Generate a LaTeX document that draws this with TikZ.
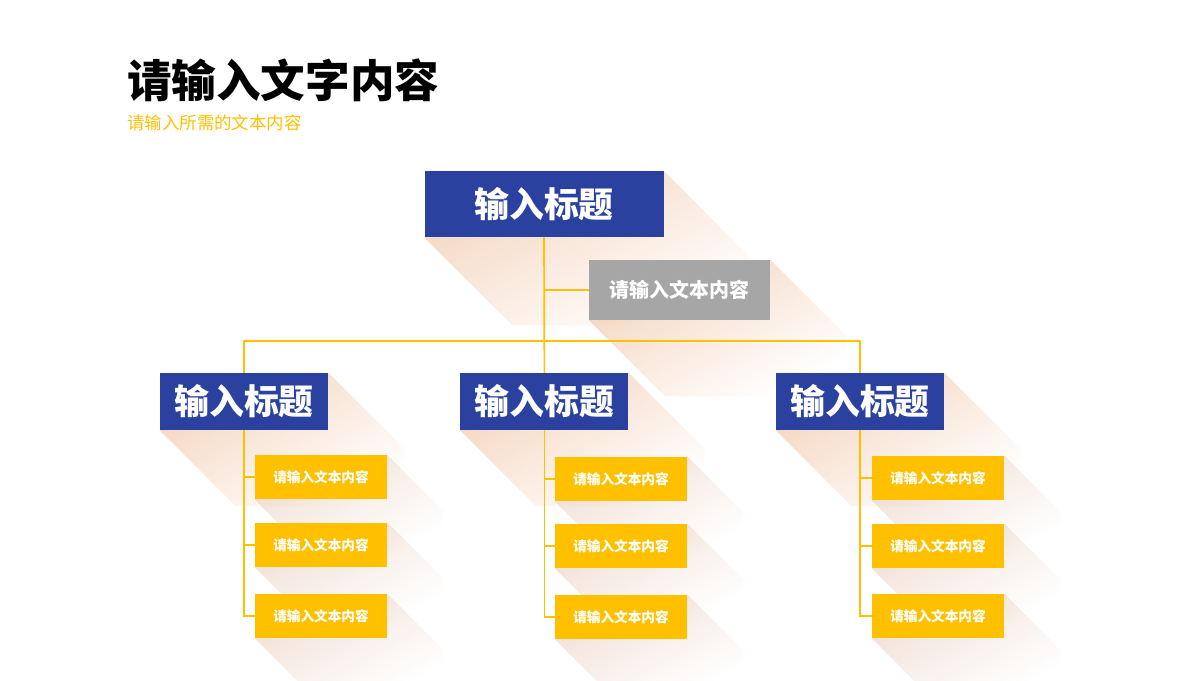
\documentclass[tikz,border=0pt]{standalone}
\usepackage{fontspec}
\setmainfont{Noto Sans CJK SC}
\usetikzlibrary{fadings}
\pgfdeclarelayer{shadowlayer}
\pgfdeclarelayer{edgelayer}
\pgfdeclarelayer{nodelayer}
\pgfsetlayers{shadowlayer,edgelayer,nodelayer,main}
\definecolor{headblue}{HTML}{2A41A0}
\definecolor{itemyellow}{HTML}{FFC000}
\definecolor{notegray}{HTML}{A6A6A6}
\definecolor{shadowpeach}{HTML}{F0C4A4}
\definecolor{shadowsoft}{HTML}{EBD3C4}
\tikzfading[name=longshadow, top color=transparent!30, middle color=transparent!85, bottom color=transparent!100]
\tikzstyle{heading}=[rectangle,fill=headblue,text=white,inner sep=0pt,minimum width=4.2cm,minimum height=1.425cm,font=\fontsize{24.8}{26}\selectfont\bfseries]
\tikzstyle{topheading}=[heading,minimum width=5.975cm,minimum height=1.65cm]
\tikzstyle{note}=[rectangle,fill=notegray,text=white,inner sep=0pt,minimum width=4.525cm,minimum height=1.5cm,font=\fontsize{14.2}{16}\selectfont\bfseries]
\tikzstyle{item}=[rectangle,fill=itemyellow,text=white,inner sep=0pt,minimum width=3.3cm,minimum height=1.1cm,font=\fontsize{9.7}{11}\selectfont\bfseries]
\tikzstyle{link}=[draw=itemyellow,line width=1.2pt]
\tikzstyle{castshadow}=[fill=shadowpeach,path fading=longshadow,fading angle=45]
\newcommand{\longshadow}[3][]{\path [style=castshadow,#1] (#2.south west) -- (#2.north east) -- ([shift={(#3,-#3)}]#2.north east) -- ([shift={(#3,-#3)}]#2.south east) -- ([shift={(#3,-#3)}]#2.south west) -- cycle;}

\begin{document}
\begin{tikzpicture}
	\useasboundingbox (0,0) rectangle (30,-17);
	\begin{pgfonlayer}{nodelayer}
		\node [anchor=west, inner sep=0pt, font=\fontsize{31.7}{34}\selectfont\bfseries] (14) at (3.175, -2.0) {请输入文字内容};
		\node [anchor=west, inner sep=0pt, text=itemyellow, font=\fontsize{12.4}{14}\selectfont] (15) at (3.175, -3.075) {请输入所需的文本内容};
		\node [style=topheading] (0) at (13.6, -5.1) {输入标题};
		\node [style=note] (1) at (16.99, -7.25) {请输入文本内容};
		\node [style=heading] (2) at (6.1, -10.04) {输入标题};
		\node [style=heading] (3) at (13.61, -10.04) {输入标题};
		\node [style=heading] (4) at (21.5, -10.04) {输入标题};
		\node [style=item] (5) at (8.025, -11.93) {请输入文本内容};
		\node [style=item] (6) at (8.025, -13.62) {请输入文本内容};
		\node [style=item] (7) at (8.025, -15.4) {请输入文本内容};
		\node [style=item] (8) at (15.525, -11.97) {请输入文本内容};
		\node [style=item] (9) at (15.525, -13.65) {请输入文本内容};
		\node [style=item] (10) at (15.525, -15.42) {请输入文本内容};
		\node [style=item] (11) at (23.45, -11.95) {请输入文本内容};
		\node [style=item] (12) at (23.45, -13.65) {请输入文本内容};
		\node [style=item] (13) at (23.45, -15.4) {请输入文本内容};
	\end{pgfonlayer}
	\begin{pgfonlayer}{shadowlayer}
		\longshadow{0}{2.2}
		\longshadow{1}{1.9}
		\foreach \n in {2,3,4} {\longshadow{\n}{1.9}}
		\foreach \n in {5,...,13} {\longshadow[fill=shadowsoft]{\n}{1.4}}
	\end{pgfonlayer}
	\begin{pgfonlayer}{edgelayer}
		\coordinate (j) at (13.6, -8.525);
		\draw [style=link] (0.south) -- (3.north);
		\draw [style=link] (0.south |- 1.west) -- (1.west);
		\draw [style=link] (2.north) |- (j) -| (4.north);
		\draw [style=link] (2.south) |- (7.west);
		\draw [style=link] (2.south |- 5.west) -- (5.west);
		\draw [style=link] (2.south |- 6.west) -- (6.west);
		\draw [style=link] (3.south) |- (10.west);
		\draw [style=link] (3.south |- 8.west) -- (8.west);
		\draw [style=link] (3.south |- 9.west) -- (9.west);
		\draw [style=link] (4.south) |- (13.west);
		\draw [style=link] (4.south |- 11.west) -- (11.west);
		\draw [style=link] (4.south |- 12.west) -- (12.west);
	\end{pgfonlayer}
\end{tikzpicture}
\end{document}
